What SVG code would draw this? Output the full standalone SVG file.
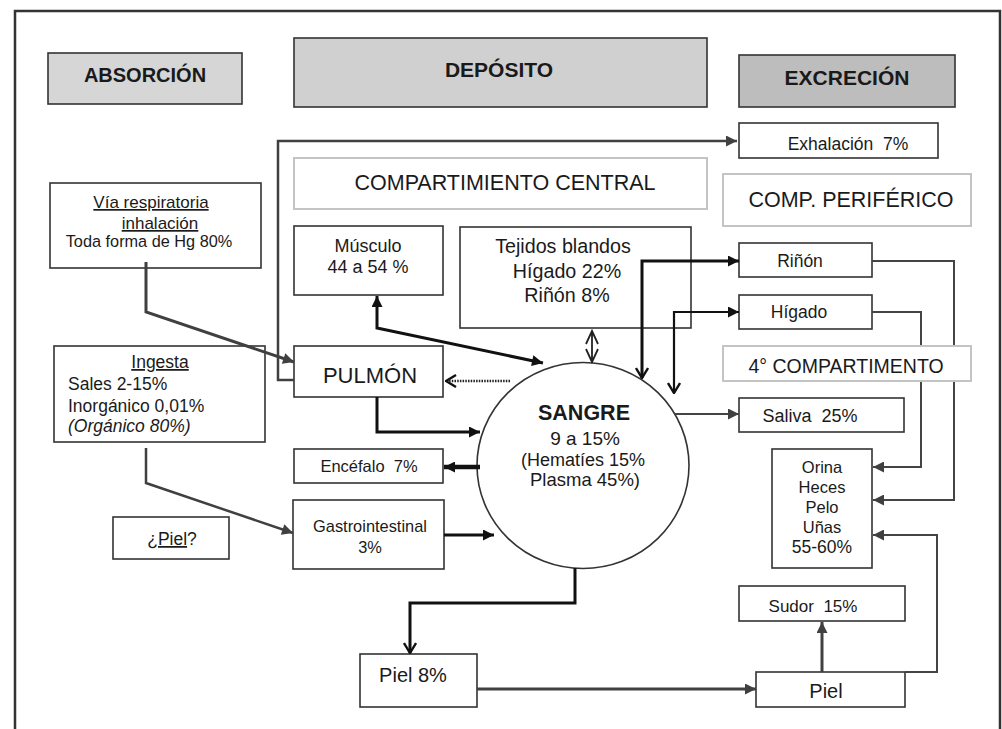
<svg xmlns="http://www.w3.org/2000/svg" width="1002" height="729" viewBox="0 0 1002 729">
<style>
.t{font-family:"Liberation Sans",Arial,sans-serif;fill:#1a1a1a;text-anchor:middle}
.s{text-anchor:start}
.b{font-weight:bold}
.box{fill:#fff;stroke:#333;stroke-width:1.6}
.lt{fill:#fff;stroke:#c4c4c4;stroke-width:2}
.k{fill:none;stroke:#111;stroke-width:3}
.g{fill:none;stroke:#404040;stroke-width:2.5}
.g2{fill:none;stroke:#444;stroke-width:2}
</style>
<defs>
<marker id="tk" viewBox="0 0 10 10" refX="10" refY="5" markerWidth="13" markerHeight="11" markerUnits="userSpaceOnUse" orient="auto-start-reverse"><path d="M0,0L10,5L0,10z" fill="#111"/></marker>
<marker id="tg" viewBox="0 0 10 10" refX="10" refY="5" markerWidth="13" markerHeight="11" markerUnits="userSpaceOnUse" orient="auto-start-reverse"><path d="M0,0L10,5L0,10z" fill="#404040"/></marker>
<marker id="ch" viewBox="0 0 12 14" refX="11" refY="7" markerWidth="12" markerHeight="14" markerUnits="userSpaceOnUse" orient="auto"><path d="M1,1L11,7L1,13" fill="none" stroke="#111" stroke-width="2.4"/></marker>
</defs>

<path d="M15,740V11H1000V740" fill="none" stroke="#333" stroke-width="2.5"/>

<g id="absorcion"><rect x="48" y="53" width="194" height="51" fill="#d6d6d6" stroke="#333" stroke-width="1.6"/><text class="t b" x="145" y="82" font-size="20">ABSORCIÓN</text></g>
<g id="deposito"><rect x="294" y="38" width="413" height="69" fill="#d0d0d0" stroke="#333" stroke-width="1.6"/><text class="t b" x="499" y="77" font-size="21">DEPÓSITO</text></g>
<g id="excrecion"><rect x="739" y="55" width="216" height="52" fill="#bdbdbd" stroke="#333" stroke-width="1.6"/><text class="t b" x="847" y="85" font-size="21">EXCRECIÓN</text></g>

<g id="exhalacion"><rect class="box" x="739" y="123" width="199" height="35"/><text class="t" x="848" y="150" font-size="17.5" xml:space="preserve">Exhalación  7%</text></g>
<g id="comp-periferico"><rect class="lt" x="723" y="174" width="248" height="52"/><text class="t" x="851" y="207" font-size="21.5">COMP. PERIFÉRICO</text></g>
<g id="comp-central"><rect class="lt" x="294" y="158" width="413" height="51"/><text class="t" x="505" y="190" font-size="21.5">COMPARTIMIENTO CENTRAL</text></g>

<g id="via-respiratoria"><rect class="box" x="50" y="183" width="211" height="85"/>
<text class="t" x="151" y="208" font-size="17" text-decoration="underline">Vía respiratoria</text>
<text class="t" x="160" y="229" font-size="17" text-decoration="underline">inhalación</text>
<text class="t" x="149" y="247" font-size="16.3">Toda forma de Hg 80%</text></g>

<g id="ingesta"><rect class="box" x="54" y="346" width="211" height="96"/>
<text class="t" x="160" y="368" font-size="17.5" text-decoration="underline">Ingesta</text>
<text class="t s" x="68" y="390" font-size="17.5">Sales 2-15%</text>
<text class="t s" x="68" y="412" font-size="17.5">Inorgánico 0,01%</text>
<text class="t s" x="68" y="432" font-size="17.5" font-style="italic">(Orgánico 80%)</text></g>

<g id="musculo"><rect class="box" x="294" y="226" width="149" height="69"/>
<text class="t" x="368" y="252" font-size="18">Músculo</text>
<text class="t" x="368" y="273" font-size="18">44 a 54 %</text></g>

<g id="tejidos"><rect class="box" x="460" y="227" width="231" height="101"/>
<text class="t" x="563" y="253" font-size="19.7">Tejidos blandos</text>
<text class="t" x="567" y="278" font-size="19.7">Hígado 22%</text>
<text class="t" x="567" y="302" font-size="19.7">Riñón 8%</text></g>

<g id="pulmon"><rect class="box" x="294" y="346" width="149" height="51"/><text class="t" x="370" y="383" font-size="22">PULMÓN</text></g>
<g id="encefalo"><rect class="box" x="294" y="449" width="149" height="34"/><text class="t" x="369" y="472" font-size="16.5" xml:space="preserve">Encéfalo  7%</text></g>
<g id="gastro"><rect class="box" x="293" y="500" width="151" height="69"/>
<text class="t" x="370" y="532" font-size="16.4">Gastrointestinal</text>
<text class="t" x="370" y="553" font-size="16.4">3%</text></g>
<g id="piel-q"><rect class="box" x="113" y="517" width="116" height="42"/><text class="t" x="172" y="545" font-size="17.5"><tspan text-decoration="underline">¿Piel</tspan>?</text></g>

<g id="sangre"><ellipse cx="583" cy="465.5" rx="106" ry="103" fill="#fff" stroke="#333" stroke-width="1.6"/>
<text class="t b" x="584" y="420" font-size="21.5">SANGRE</text>
<text class="t" x="585" y="445" font-size="19">9 a 15%</text>
<text class="t" x="583" y="466" font-size="18">(Hematíes 15%</text>
<text class="t" x="585" y="486" font-size="18.5">Plasma 45%)</text></g>

<g id="rinon"><rect class="box" x="739" y="243" width="133" height="34"/><text class="t" x="800" y="267" font-size="17.5">Riñón</text></g>
<g id="higado"><rect class="box" x="739" y="295" width="133" height="34"/><text class="t" x="799" y="318" font-size="17.5">Hígado</text></g>
<g id="saliva"><rect class="box" x="739" y="398" width="165" height="34"/><text class="t" x="810" y="422" font-size="18" xml:space="preserve">Saliva  25%</text></g>
<g id="orina"><rect class="box" x="772" y="449" width="100" height="119"/>
<text class="t" x="822" y="472.5" font-size="16.5">Orina</text>
<text class="t" x="822" y="493" font-size="16.5">Heces</text>
<text class="t" x="822" y="513" font-size="16.5">Pelo</text>
<text class="t" x="822" y="533" font-size="16.5">Uñas</text>
<text class="t" x="822" y="553" font-size="17.5">55-60%</text></g>
<g id="sudor"><rect class="box" x="739" y="586" width="166" height="35"/><text class="t" x="813" y="612" font-size="17" xml:space="preserve">Sudor  15%</text></g>
<g id="piel"><rect class="box" x="756" y="672" width="149" height="35"/><text class="t" x="826" y="698" font-size="20">Piel</text></g>
<g id="piel8"><rect class="box" x="360" y="654" width="117" height="53"/><text class="t" x="413" y="682" font-size="20">Piel 8%</text></g>

<g id="connectors">
<path class="g" d="M294,380H278V141H737" marker-end="url(#tg)"/>
<path class="g" style="stroke-width:3" d="M146,262V312L294,362" marker-end="url(#tg)"/>
<path class="g" d="M146,448V483L293,533" marker-end="url(#tg)"/>
<path class="k" d="M377,397V432H480" marker-end="url(#tk)"/>
<path class="k" d="M377,296V328L543,363" marker-start="url(#tk)" marker-end="url(#tk)"/>
<path d="M510,381H446" fill="none" stroke="#222" stroke-width="2.5" stroke-dasharray="1.5,1.2" marker-end="url(#ch)"/>
<path d="M592,331V362M586,344L592,331L598,344M586,349L592,362L598,349" fill="none" stroke="#222" stroke-width="1.8"/>
<path class="k" d="M739,261H642V378" marker-start="url(#tk)" marker-end="url(#ch)"/>
<path class="k" style="stroke-width:2.2" d="M739,312H674V393" marker-start="url(#tk)" marker-end="url(#ch)"/>
<path class="g2" d="M675,414H739" marker-end="url(#tg)"/>
<path class="k" style="stroke-width:4.5" d="M480,467H444" marker-end="url(#tk)"/>
<path class="k" d="M444,535H494" marker-end="url(#tk)"/>
<path class="k" d="M575,568V603H410V653" marker-end="url(#ch)"/>
<path class="g" style="stroke-width:3" d="M477,689H756" marker-end="url(#tg)"/>
<path class="g" style="stroke-width:3" d="M822,672V622" marker-end="url(#tg)"/>
<path class="g2" d="M905,672H937V535H873" marker-end="url(#tg)"/>
<path class="g2" d="M872,261H954V500H873" marker-end="url(#tg)"/>
<path class="g2" d="M872,312H921V467H873" marker-end="url(#tg)"/>
</g>

<g id="comp4"><rect class="lt" x="723" y="346" width="248" height="35"/><text class="t" x="846" y="373" font-size="19.5">4° COMPARTIMENTO</text></g>
</svg>
